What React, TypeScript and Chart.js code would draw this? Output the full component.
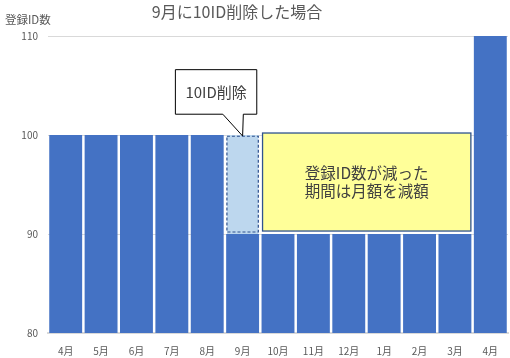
import React, { useEffect, useRef } from "react";
import { Chart, registerables } from "chart.js";

Chart.register(...registerables);

const categories = ["4月", "5月", "6月", "7月", "8月", "9月", "10月", "11月", "12月", "1月", "2月", "3月", "4月"];
const registeredIds = [100, 100, 100, 100, 100, 90, 90, 90, 90, 90, 90, 90, 110];
const deletedIds = [0, 0, 0, 0, 0, 10, 0, 0, 0, 0, 0, 0, 0];
const yTicks = [80, 90, 100, 110];

const titleText = "9月に10ID削除した場合";
const yAxisTitle = "登録ID数";
const calloutText = "10ID削除";
const noteLines = ["登録ID数が減った", "期間は月額を減額"];

// annotation anchors in data units (category index / value)
const callout = { x0: 3.1, x1: 5.4, y0: 102.1, y1: 106.6, tailL: 4.44, tailR: 5.02, tipIndex: 5, tipValue: 100 };
const note = { firstIndex: 6, lastIndex: 11, top: 100.2, bottom: 90.3 };

const FONT = "'Noto Sans CJK JP', 'Noto Sans', sans-serif";
const GRAY = "#595959";

const annotationPlugin = {
  id: "annotations",
  afterDatasetsDraw(chart: any) {
    const ctx = chart.ctx;
    const xs = chart.scales.x;
    const ys = chart.scales.y;

    // dashed outline for deleted part
    const meta = chart.getDatasetMeta(1);
    meta.data.forEach((el: any, i: number) => {
      if (!deletedIds[i]) return;
      const p = el.getProps(["x", "y", "base", "width"], true);
      const l = p.x - p.width / 2 + 0.75;
      const r = p.x + p.width / 2 - 0.75;
      const t = p.y + 1.25;
      const b = p.base - 2;
      ctx.save();
      ctx.fillStyle = "#BDD7EE";
      ctx.fillRect(l, p.y, r - l, p.base - p.y);
      ctx.strokeStyle = "#2F528F";
      ctx.lineWidth = 1.2;
      ctx.setLineDash([3, 2]);
      ctx.strokeRect(l, t, r - l, b - t);
      ctx.restore();
    });

    // callout box
    const cx0 = xs.getPixelForValue(callout.x0);
    const cx1 = xs.getPixelForValue(callout.x1);
    const cy0 = ys.getPixelForValue(callout.y1);
    const cy1 = ys.getPixelForValue(callout.y0);
    const tl = xs.getPixelForValue(callout.tailL);
    const tr = xs.getPixelForValue(callout.tailR);
    const tipX = xs.getPixelForValue(callout.tipIndex);
    const tipY = ys.getPixelForValue(callout.tipValue) + 1;
    ctx.save();
    ctx.beginPath();
    ctx.moveTo(cx0, cy0);
    ctx.lineTo(cx1, cy0);
    ctx.lineTo(cx1, cy1);
    ctx.lineTo(tr, cy1);
    ctx.lineTo(tipX, tipY);
    ctx.lineTo(tl, cy1);
    ctx.lineTo(cx0, cy1);
    ctx.closePath();
    ctx.fillStyle = "#FFFFFF";
    ctx.fill();
    ctx.strokeStyle = "#000000";
    ctx.lineWidth = 1;
    ctx.stroke();
    ctx.fillStyle = "#404040";
    ctx.font = `15px ${FONT}`;
    ctx.textAlign = "center";
    ctx.textBaseline = "middle";
    ctx.fillText(calloutText, (cx0 + cx1) / 2, (cy0 + cy1) / 2);
    ctx.restore();

    // note box
    const m0 = chart.getDatasetMeta(0);
    const e0 = m0.data[note.firstIndex].getProps(["x", "width"], true);
    const e1 = m0.data[note.lastIndex].getProps(["x", "width"], true);
    const nx0 = e0.x - e0.width / 2 + 1;
    const nx1 = e1.x + e1.width / 2 - 0.5;
    const ny0 = ys.getPixelForValue(note.top);
    const ny1 = ys.getPixelForValue(note.bottom);
    ctx.save();
    ctx.fillStyle = "#FFFF99";
    ctx.fillRect(nx0, ny0, nx1 - nx0, ny1 - ny0);
    ctx.strokeStyle = "#2F528F";
    ctx.lineWidth = 1.3;
    ctx.strokeRect(nx0, ny0, nx1 - nx0, ny1 - ny0);
    ctx.fillStyle = "#404040";
    ctx.font = `15.5px ${FONT}`;
    ctx.textAlign = "center";
    ctx.textBaseline = "middle";
    const ncx = (nx0 + nx1) / 2;
    const ncy = (ny0 + ny1) / 2;
    ctx.fillText(noteLines[0], ncx, ncy - 9);
    ctx.fillText(noteLines[1], ncx, ncy + 9);
    ctx.restore();
  },
  afterDraw(chart: any) {
    const ctx = chart.ctx;
    ctx.save();
    ctx.fillStyle = GRAY;
    ctx.textBaseline = "middle";
    ctx.font = `16px ${FONT}`;
    ctx.textAlign = "center";
    ctx.fillText(titleText, 237, 12);
    ctx.font = `11.5px ${FONT}`;
    ctx.textAlign = "left";
    ctx.fillText(yAxisTitle, 5, 20);
    ctx.restore();
  },
};

export default function App() {
  const ref = useRef<HTMLCanvasElement | null>(null);
  useEffect(() => {
    if (!ref.current) return;
    Chart.defaults.font.family = FONT;
    const chart = new Chart(ref.current, {
      type: "bar",
      data: {
        labels: categories,
        datasets: [
          {
            label: "登録ID数",
            data: registeredIds,
            backgroundColor: "#4472C4",
            borderWidth: 0,
            barPercentage: 0.93,
            categoryPercentage: 1,
          },
          {
            label: "削除ID",
            data: deletedIds,
            backgroundColor: "rgba(0,0,0,0)",
            borderWidth: 0,
            barPercentage: 0.93,
            categoryPercentage: 1,
          },
        ],
      },
      options: {
        animation: false,
        responsive: false,
        maintainAspectRatio: false,
        layout: { padding: { left: 0, right: 2, top: 36, bottom: 0 } },
        plugins: {
          legend: { display: false },
          title: { display: false },
          tooltip: { enabled: false },
        },
        scales: {
          x: {
            stacked: true,
            z: 1,
            grid: { display: false },
            border: { display: true, color: "#D9D9D9", width: 2 },
            ticks: { color: GRAY, font: { size: 10 }, padding: 4, maxRotation: 0, autoSkip: false },
            afterFit: (s: any) => {
              s.height = 25;
            },
          },
          y: {
            stacked: true,
            min: yTicks[0],
            max: yTicks[yTicks.length - 1],
            grid: { color: "#D9D9D9", drawTicks: false, lineWidth: 1 },
            border: { display: false },
            afterBuildTicks: (s: any) => {
              s.ticks = yTicks.map((v) => ({ value: v }));
            },
            ticks: { color: GRAY, font: { size: 10 }, padding: 10 },
            afterFit: (s: any) => {
              s.width = 48;
            },
          },
        },
      },
      plugins: [annotationPlugin],
    });
    return () => chart.destroy();
  }, []);
  return (
    <div style={{ position: "absolute", left: 0, top: 0, width: 510, height: 358, background: "#fff" }}>
      <canvas ref={ref} width={510} height={358} style={{ width: 510, height: 358, display: "block" }} />
    </div>
  );
}
